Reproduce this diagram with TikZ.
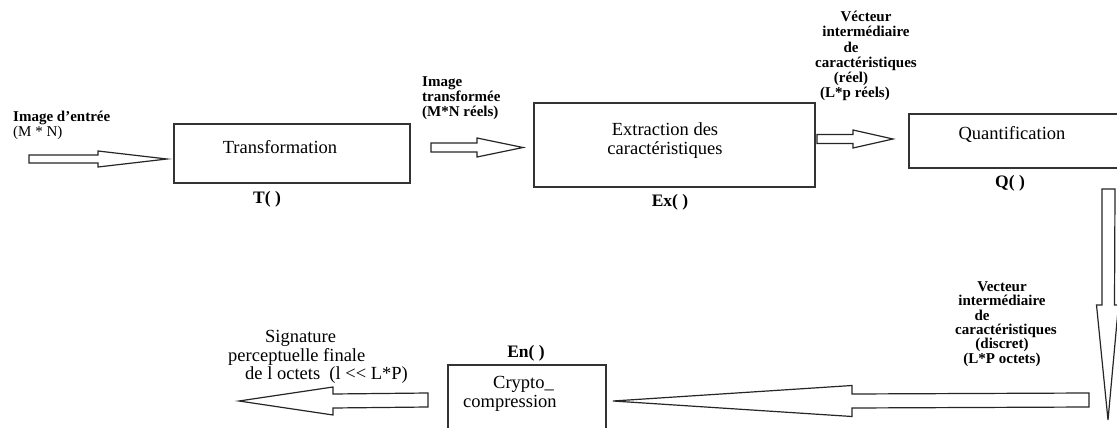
\documentclass[tikz,border=0pt]{standalone}
\usepackage{fontspec}
\setmainfont{Liberation Serif}
\usetikzlibrary{calc}

% horizontal block arrow: tail, tip, shaft half-width, head half-width, signed head length
\newcommand\fatarrowh[5]{%
  \draw[blockarrow] ($(#1)+(0,{-1*(#3)})$) -- ($(#2)+({-1*(#5)},{-1*(#3)})$)
    -- ($(#2)+({-1*(#5)},{-1*(#4)})$) -- (#2) -- ($(#2)+({-1*(#5)},#4)$)
    -- ($(#2)+({-1*(#5)},#3)$) -- ($(#1)+(0,#3)$) -- cycle;}

\tikzset{
  stage/.style={draw=black!80, line width=1.3pt, rectangle, inner sep=0pt},
  blockarrow/.style={draw=black!85, line width=1.2pt, fill=white, line join=miter},
  boxtext/.style={inner sep=0pt, align=center, font=\fontsize{18.5}{19}\selectfont},
  fname/.style={inner sep=0pt, font=\fontsize{17.5}{18}\selectfont\bfseries},
  smalllbl/.style={inner sep=0pt, font=\fontsize{15}{15.2}\selectfont\bfseries},
}

\begin{document}
\begin{tikzpicture}[x=1pt, y=-1pt]
\useasboundingbox (0,0) rectangle (1117,428);
\fill[white] (0,0) rectangle (1117,428);
\clip (0,0) rectangle (1117,428);

% processing stages
\node[stage, minimum width=236pt, minimum height=59pt] (T) at (292,153.5) {};
\node[stage, minimum width=281pt, minimum height=84pt] (Ex) at (674.5,145) {};
\node[stage, minimum width=221pt, minimum height=54pt] (Q) at (1019.5,141) {};
\node[stage, minimum width=158pt, minimum height=80pt] (En) at (527,405) {};

% stage captions
\node[boxtext] (Tt) at (280,147) {Transformation};
\node[boxtext] (Ext) at (665,140.5) {Extraction des\\caractéristiques};
\node[boxtext] (Qt) at (1012,134) {Quantification};
\node[boxtext, align=left, anchor=west] (Ent) at (463,394) {\hspace*{30pt}Crypto\_\\compression};

% function names
\node[fname] (Tf) at (267,199) {T( )};
\node[fname] (Exf) at (670,202) {Ex( )};
\node[fname] (Qf) at (1010,183) {Q( )};
\node[fname] (Enf) at (526,353) {En( )};

% data labels
\node[smalllbl, anchor=west, align=left] (l1) at (13,125)
  {Image d'entrée\\{\mdseries (M * N)}};
\node[smalllbl, anchor=west, align=left] (l2) at (422,98)
  {Image\\transformée\\(M*N réels)};
\node[smalllbl, align=center] (l3) at (866,56)
  {Vécteur\\intermédiaire\\\hspace*{-30pt}de\\caractéristiques\\\hspace*{-30pt}(réel)\\\hspace*{-22pt}(L*p réels)};
\node[smalllbl, align=center, font=\fontsize{15}{14.4}\selectfont\bfseries] (l4) at (1002,324)
  {Vecteur\\intermédiaire\\\hspace*{-40pt}de\\\hspace*{8pt}caractéristiques\\(discret)\\(L*P octets)};
\node[inner sep=0pt, anchor=west, align=left, font=\fontsize{18.5}{18.5}\selectfont] (l5) at (228,357)
  {\hspace*{37pt}Signature\\perceptuelle finale\\\hspace*{17pt}de l octets\ \ (l <{}< L*P)};

% block arrows between stages
\coordinate (a1s) at (29,159);    \coordinate (a1e) at (167,159);
\coordinate (a2s) at (431,147.5); \coordinate (a2e) at (523,147.5);
\coordinate (a3s) at (817,139);   \coordinate (a3e) at (893,139);
\coordinate (a4s) at (1089,400);  \coordinate (a4e) at (613,401);
\coordinate (a5s) at (428,400);   \coordinate (a5e) at (239,401);
\fatarrowh{a1s}{a1e}{4}{8}{69}
\fatarrowh{a2s}{a2e}{4.5}{9.5}{46}
\fatarrowh{a3s}{a3e}{4.5}{9}{40}
\fatarrowh{a4s}{a4e}{7}{15.5}{-239}
\fatarrowh{a5s}{a5e}{7}{14}{-94}

% vertical block arrow from Q down to the bottom row
\coordinate (a6s) at (1108.5,189); \coordinate (a6e) at (1108,420);
\draw[blockarrow] ($(a6s)+(-6.5,0)$) -- ($(a6e)+(-6,-115)$) -- ($(a6e)+(-11.5,-115)$)
  -- (a6e) -- ($(a6e)+(10.5,-115)$) -- ($(a6e)+(6.5,-115)$) -- ($(a6s)+(6.5,0)$) -- cycle;
\end{tikzpicture}
\end{document}
